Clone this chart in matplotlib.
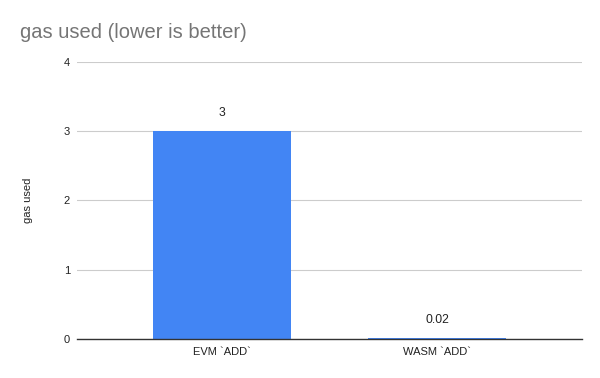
import matplotlib
matplotlib.use("Agg")
import matplotlib.pyplot as plt

categories = ["EVM `ADD`", "WASM `ADD`"]
values = [3, 0.02]
value_labels = ["3", "0.02"]
yticks = [0, 1, 2, 3, 4]

plt.rcParams['font.family'] = ['Liberation Sans', 'DejaVu Sans']

fig = plt.figure(figsize=(6, 3.78), dpi=100)
ax = fig.add_axes([0.1283, 0.1032, 0.97 - 0.1283, 0.836 - 0.1032])

x = list(range(len(categories)))
ax.bar(x, values, width=0.642, color="#4285F4", zorder=3)
for xi, v, lab in zip(x, values, value_labels):
    ax.annotate(lab, (xi, v), xytext=(0, 8.5), textcoords="offset points",
                ha="center", va="bottom", fontsize=8.7, color="#222222")

ax.set_xlim(-0.674, 1.674)
ax.set_ylim(0, 4)
ax.set_yticks(yticks)
ax.set_yticklabels([str(t) for t in yticks])
ax.set_xticks(x)
ax.set_xticklabels(categories)
ax.grid(axis="y", color="#cccccc", linewidth=0.8, zorder=0)
for s in ["top", "right", "left"]:
    ax.spines[s].set_visible(False)
ax.spines["bottom"].set_color("#333333")
ax.spines["bottom"].set_linewidth(1)
ax.spines["bottom"].set_zorder(4)
ax.tick_params(axis="both", length=0, labelsize=8, colors="#222222")
ax.tick_params(axis="y", pad=5)
ax.tick_params(axis="x", pad=6)
ax.set_ylabel("gas used", fontsize=8, color="#222222", labelpad=22)

fig.text(20 / 600, 1 - 32 / 378, "gas used (lower is better)", fontsize=14.5,
         color="#757575", ha="left", va="center")

fig.savefig("out.png", dpi=100)
